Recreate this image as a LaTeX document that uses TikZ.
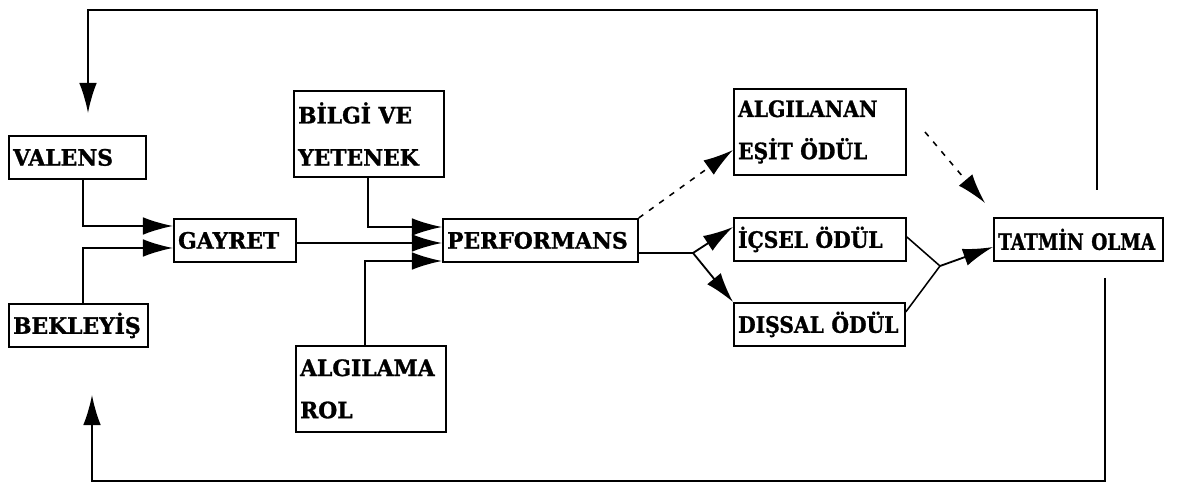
\documentclass[tikz,border=0pt]{standalone}
\usepackage{fontspec}
\setmainfont{DejaVu Serif}[FakeStretch=0.97, BoldFeatures={FakeBold=1.2}]
\usetikzlibrary{arrows.meta}

\begin{document}
\begin{tikzpicture}[x=0.025cm, y=-0.025cm,
	every node/.style={font=\bfseries\fontsize{16}{30}\selectfont},
	dar/.style={font=\bfseries\fontsize{16}{30}\selectfont\addfontfeature{FakeStretch=0.9}},
	kutu/.style={draw, line width=1.3pt, anchor=north west, align=left, inner xsep=3pt, inner ysep=0pt, minimum height=1.075cm},
	ciftkutu/.style={kutu, minimum height=2.15cm},
	ok/.style={line width=1.3pt, -{Latex[length=7.5mm,width=4.4mm]}},
	kesikok/.style={ok, line width=1.1pt, dash pattern=on 4pt off 5pt}]
	\useasboundingbox (0,0) rectangle (1204,484);
	% kutular
	\node[kutu, text width=3.21cm] (valens) at (8,135) {VALENS};
	\node[kutu, text width=3.26cm] (bekleyis) at (8,303) {BEKLEYİŞ};
	\node[kutu, text width=2.84cm] (gayret) at (173,218) {GAYRET};
	\node[ciftkutu, text width=3.54cm] (bilgi) at (293,90) {BİLGİ~VE\\YETENEK};
	\node[ciftkutu, text width=3.54cm] (algilama) at (295,345) {ALGILAMA\\ROL};
	\node[kutu, text width=4.66cm] (perf) at (442,218) {PERFORMANS};
	\node[ciftkutu, dar, text width=4.09cm] (esit) at (733,88) {ALGILANAN\\EŞİT~ÖDÜL};
	\node[kutu, dar, text width=4.09cm] (icsel) at (733,217) {İÇSEL~ÖDÜL};
	\node[kutu, dar, text width=4.06cm] (dissal) at (733,302) {DIŞSAL~ÖDÜL};
	\node[kutu, text width=4.01cm, font=\bfseries\fontsize{16}{30}\selectfont\addfontfeature{FakeStretch=0.82}] (tatmin) at (993,217) {TATMİN~OLMA};
	% baglantilar
	\draw[ok] (valens.south -| 83,0) |- (gayret.west |- 0,226);
	\draw[ok] (bekleyis.north -| 83,0) |- (gayret.west |- 0,248);
	\draw[ok] (gayret.east |- 0,243) -- (perf.west |- 0,243);
	\draw[ok] (bilgi.south -| 368,0) |- (perf.west |- 0,227);
	\draw[ok] (algilama.north -| 365,0) |- (perf.west |- 0,261);
	\draw[kesikok] (perf.north east) -- (esit.west |- 0,150);
	\coordinate (ayrim) at (693,253);
	\draw[line width=1.3pt] (perf.east |- ayrim) -- (ayrim);
	\draw[ok] (ayrim) -- (icsel.west |- 0,227);
	\draw[ok] (ayrim) -- (dissal.north west);
	\coordinate (birlesim) at (940,266);
	\draw[line width=1.1pt] (icsel.east |- 0,237) -- (birlesim);
	\draw[line width=1.1pt] (dissal.east |- 0,312) -- (birlesim);
	\draw[ok] (birlesim) -- (tatmin.west |- 0,247);
	\coordinate (e1) at (925,132);
	\coordinate (e2) at (985,203);
	\draw[kesikok] (e1) -- (e2);
	% geri besleme
	\coordinate (u1) at (1097,190);
	\coordinate (u2) at (88,113);
	\draw[ok] (u1) |- (u2 |- 0,10) -- (u2);
	\coordinate (a1) at (1105,278);
	\coordinate (a2) at (92,395);
	\draw[ok] (a1) |- (a2 |- 0,481) -- (a2);
\end{tikzpicture}
\end{document}
